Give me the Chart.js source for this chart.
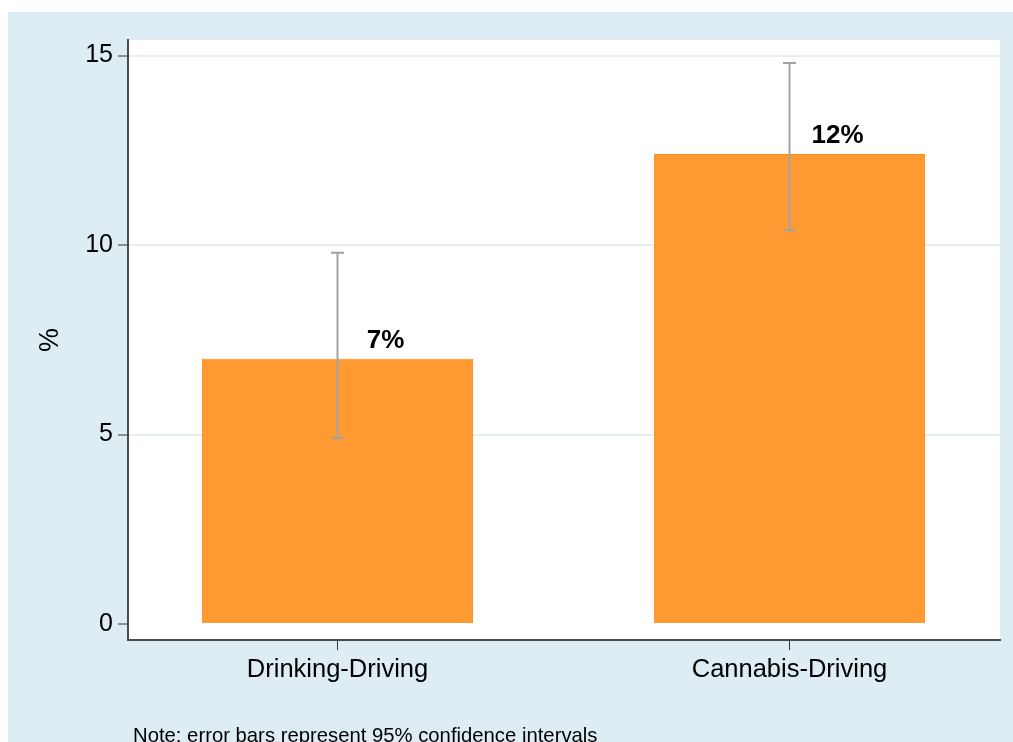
<!DOCTYPE html>
<html>
<head>
<meta charset="utf-8">
<script src="https://cdn.jsdelivr.net/npm/chart.js@4/dist/chart.umd.min.js"></script>
<style>
html,body{margin:0;padding:0;background:#ffffff;}
canvas{display:block;}
</style>
</head>
<body>
<canvas id="c" width="1013" height="742"></canvas>
<script>
// ---- data ----
const categories = ['Drinking-Driving', 'Cannabis-Driving'];
const values = [7.0, 12.4];
const ciLower = [4.9, 10.4];
const ciUpper = [9.8, 14.8];
const valueLabels = ['7%', '12%'];
const yTicks = [0, 5, 10, 15];
const yTitle = '%';
const note = 'Note: error bars represent 95% confidence intervals';

const FONT = "'Liberation Sans', Arial, Helvetica, sans-serif";

const bgPlugin = {
  id: 'bg',
  beforeDraw(chart) {
    const ctx = chart.ctx, a = chart.chartArea;
    ctx.save();
    ctx.fillStyle = '#ffffff';
    ctx.fillRect(0, 0, chart.width, chart.height);
    ctx.fillStyle = '#deedf4';
    ctx.fillRect(8, 12, chart.width - 8, chart.height - 12);
    ctx.fillStyle = '#ffffff';
    ctx.fillRect(a.left, a.top, a.right - a.left, a.bottom - a.top);
    ctx.restore();
  }
};

const errPlugin = {
  id: 'err',
  afterDatasetsDraw(chart) {
    const ctx = chart.ctx;
    const xs = chart.scales.x, ys = chart.scales.y;
    ctx.save();
    ctx.strokeStyle = '#a3a3a3';
    ctx.lineWidth = 2;
    for (let i = 0; i < values.length; i++) {
      const x = xs.getPixelForValue(i);
      const yl = ys.getPixelForValue(ciLower[i]);
      const yu = ys.getPixelForValue(ciUpper[i]);
      ctx.beginPath();
      ctx.moveTo(x, yl); ctx.lineTo(x, yu);
      ctx.moveTo(x - 6.5, yl); ctx.lineTo(x + 6.5, yl);
      ctx.moveTo(x - 6.5, yu); ctx.lineTo(x + 6.5, yu);
      ctx.stroke();
    }
    ctx.fillStyle = '#000000';
    ctx.font = 'bold 26px ' + FONT;
    ctx.textAlign = 'center';
    ctx.textBaseline = 'alphabetic';
    for (let i = 0; i < values.length; i++) {
      const x = xs.getPixelForValue(i) + 48;
      const y = ys.getPixelForValue(values[i]) - 11;
      ctx.fillText(valueLabels[i], x, y);
    }
    ctx.font = '20.3px ' + FONT;
    ctx.textAlign = 'left';
    ctx.fillText(note, 133, 742);
    ctx.restore();
  }
};

new Chart(document.getElementById('c'), {
  type: 'bar',
  data: {
    datasets: [{
      data: values.map((v, i) => ({ x: i, y: v })),
      backgroundColor: '#ff9a33',
      borderColor: '#ff8a14',
      borderWidth: 1,
      categoryPercentage: 0.6,
      barPercentage: 1.0
    }]
  },
  options: {
    responsive: false,
    animation: false,
    devicePixelRatio: 1,
    layout: { padding: { top: 40, right: 13, left: 0, bottom: 0 } },
    plugins: { legend: { display: false }, tooltip: { enabled: false } },
    scales: {
      x: {
        type: 'linear',
        offset: false,
        min: -0.4635,
        max: 1.4657,
        afterBuildTicks(scale) { scale.ticks = categories.map((c, i) => ({ value: i })); },
        afterFit(scale) { scale.height = 102; },
        ticks: {
          callback: (v, i) => categories[i],
          font: { family: FONT, size: 25.5 },
          color: '#000000',
          padding: 5,
          maxRotation: 0,
          autoSkip: false
        },
        grid: { offset: false, drawOnChartArea: false, drawTicks: true, tickLength: 10, tickColor: '#333333', tickWidth: 1 },
        border: { display: true, color: '#4a4a4a', width: 2 }
      },
      y: {
        min: -0.42,
        max: 15.41,
        afterBuildTicks(scale) { scale.ticks = yTicks.map(v => ({ value: v })); },
        afterFit(scale) { scale.width = 128; },
        ticks: {
          font: { family: FONT, size: 25 },
          color: '#000000',
          padding: 5
        },
        grid: {
          color: (ctx) => (ctx.tick && ctx.tick.value === 0) ? 'rgba(0,0,0,0)' : '#e6eef1',
          lineWidth: 2,
          drawTicks: true,
          tickLength: 10,
          tickColor: '#333333',
          tickWidth: 1
        },
        border: { display: true, color: '#4a4a4a', width: 2 },
        title: {
          display: true,
          text: yTitle,
          font: { family: FONT, size: 27 },
          color: '#000000',
          padding: { top: 34, bottom: 0 }
        }
      }
    }
  },
  plugins: [bgPlugin, errPlugin]
});
</script>
</body>
</html>
